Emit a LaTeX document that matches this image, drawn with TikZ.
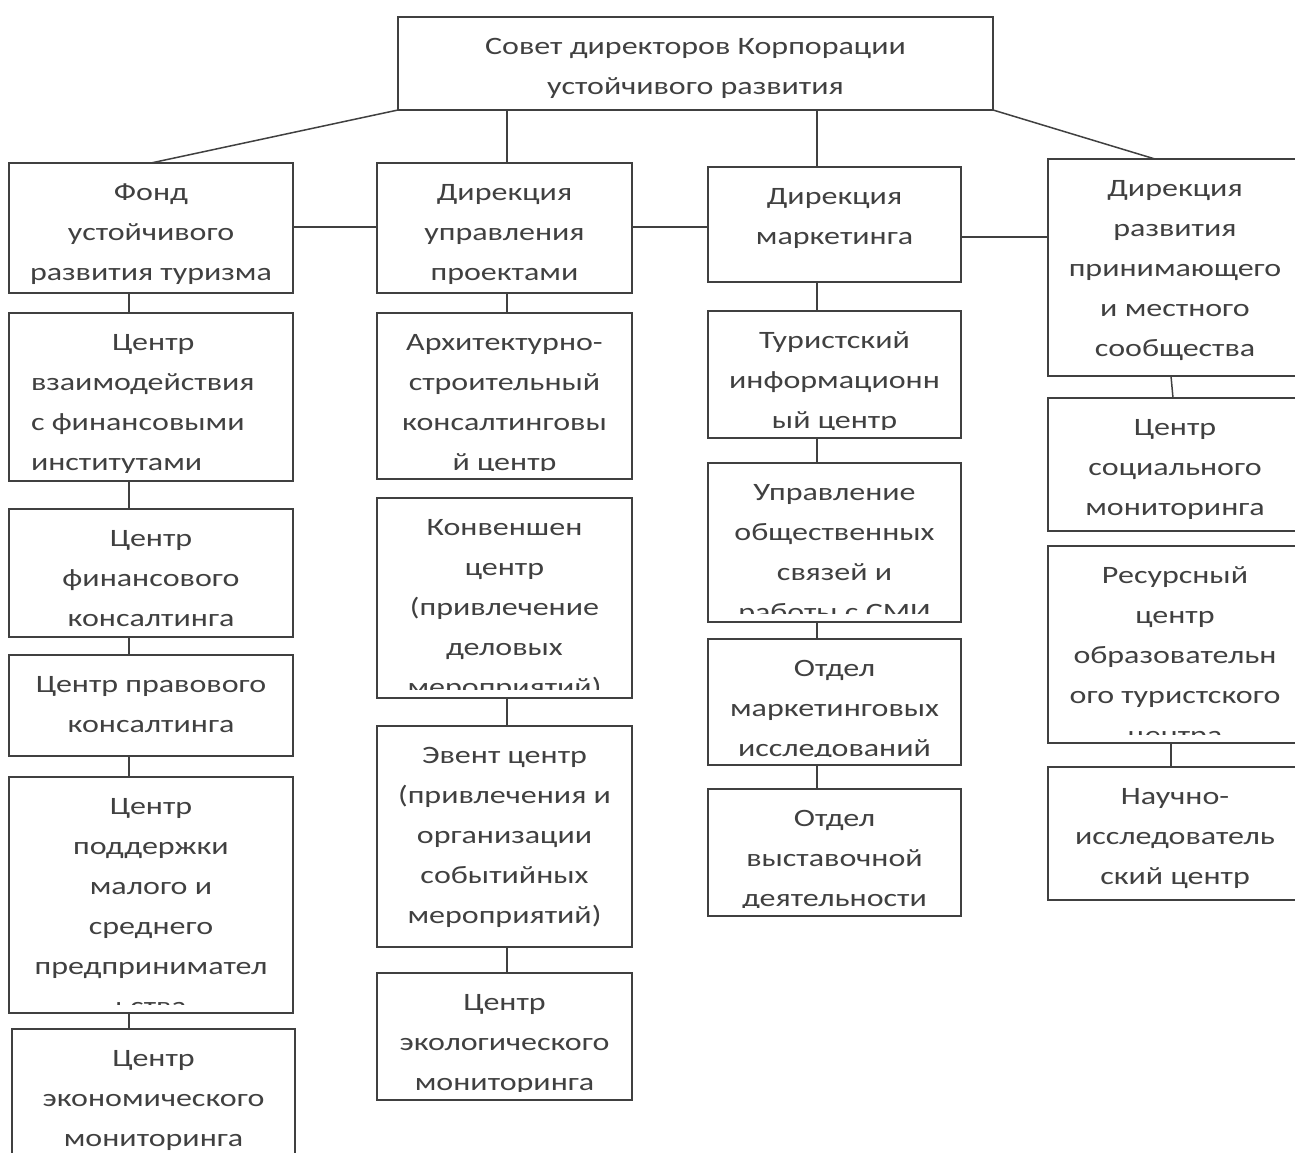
\documentclass[tikz,border=0pt]{standalone}
\usepackage{fontspec}
\setmainfont{Carlito}[FakeStretch=1.28]
\def\toff{17.5}
\newcommand\orgbox[7][]{%
  \node[obox, minimum width={(#5-#3)*1pt}, minimum height={(#6-#4)*1pt}] (#2) at (#3,#4) {};
  \begin{scope}
    \clip (#3,#4) rectangle (#5,{#6-9});
    \node[otext,#1] (#2t) at ({(#3+#5)/2},{#4+\toff}) {\rule{0pt}{20pt}#7};
  \end{scope}}
\begin{document}
\begin{tikzpicture}[x=1pt,y=-1pt,
  obox/.style={draw=black!75, line width=1.5pt, inner sep=0pt, outer sep=0pt, anchor=north west},
  otext/.style={inner sep=0pt, outer sep=0pt, align=center, anchor=north, text=black!75, font=\fontsize{25}{40}\selectfont},
  conn/.style={draw=black!75, line width=1.5pt}]
\useasboundingbox (0,0) rectangle (1295,1153);
\clip (0,0) rectangle (1295,1153);

% top
\orgbox{top}{398}{17}{993}{110}{Совет директоров Корпорации\\устойчивого развития}
% row 1
\orgbox{fond}{9}{163}{293}{293}{Фонд\\устойчивого\\развития туризма}
\orgbox{dir}{377}{163}{632}{293}{Дирекция\\управления\\проектами}
\orgbox{mark}{708}{167}{961}{282}{Дирекция\\маркетинга}
\orgbox{razv}{1048}{159}{1302}{376}{Дирекция\\развития\\принимающего\\и местного\\сообщества}
% column 1
\orgbox[anchor=north west, align=left, xshift=-120pt]{ca}{9}{313}{293}{481}{\hspace*{81pt}Центр\\взаимодействия\\с финансовыми\\институтами}
\orgbox{cb}{9}{509}{293}{637}{Центр\\финансового\\консалтинга}
\orgbox{cc}{9}{655}{293}{756}{Центр правового\\консалтинга}
\orgbox{cd}{9}{777}{293}{1013}{Центр\\поддержки\\малого и\\среднего\\предпринимател\\ьства}
\orgbox{ce}{12}{1029}{295}{1170}{Центр\\экономического\\мониторинга}
% column 2
\orgbox{da}{377}{313}{632}{479}{Архитектурно-\\строительный\\консалтинговы\\й центр}
\orgbox{db}{377}{498}{632}{698}{Конвеншен\\центр\\(привлечение\\деловых\\мероприятий)}
\orgbox{dc}{377}{726}{632}{947}{Эвент центр\\(привлечения и\\организации\\событийных\\мероприятий)}
\orgbox{dd}{377}{973}{632}{1100}{Центр\\экологического\\мониторинга}
% column 3
\orgbox{ma}{708}{311}{961}{438}{Туристский\\информационн\\ый центр}
\orgbox{mb}{708}{463}{961}{622}{Управление\\общественных\\связей и\\работы с СМИ}
\orgbox{mc}{708}{639}{961}{765}{Отдел\\маркетинговых\\исследований}
\orgbox{md}{708}{789}{961}{916}{Отдел\\выставочной\\деятельности}
% column 4
\orgbox{ra}{1048}{398}{1302}{531}{Центр\\социального\\мониторинга}
\orgbox{rb}{1048}{546}{1302}{743}{Ресурсный\\центр\\образовательн\\ого туристского\\центра}
\orgbox{rc}{1048}{767}{1302}{900}{Научно-\\исследователь\\ский центр}

% guide coordinates
\coordinate (k1) at (129,0);
\coordinate (k2) at (507,0);
\coordinate (k3) at (817,0);
\coordinate (k4) at (1171,0);
\coordinate (k4b) at (1173,0);
\coordinate (r1) at (1155,0);
\coordinate (h1) at (0,227);
\coordinate (h2) at (0,237);

% connectors from top
\draw[conn] (top.south west) -- (fond.north);
\draw[conn] (top.south -| k2) -- (dir.north -| k2);
\draw[conn] (top.south -| k3) -- (mark.north -| k3);
\draw[conn] (top.south east) -- (razv.north -| r1);
% horizontal
\draw[conn] (fond.east |- h1) -- (dir.west |- h1);
\draw[conn] (dir.east |- h1) -- (mark.west |- h1);
\draw[conn] (mark.east |- h2) -- (razv.west |- h2);
% column 1
\draw[conn] (fond.south -| k1) -- (ca.north -| k1);
\draw[conn] (ca.south -| k1) -- (cb.north -| k1);
\draw[conn] (cb.south -| k1) -- (cc.north -| k1);
\draw[conn] (cc.south -| k1) -- (cd.north -| k1);
\draw[conn] (cd.south -| k1) -- (ce.north -| k1);
% column 2
\draw[conn] (dir.south -| k2) -- (da.north -| k2);
\draw[conn] (db.south -| k2) -- (dc.north -| k2);
\draw[conn] (dc.south -| k2) -- (dd.north -| k2);
% column 3
\draw[conn] (mark.south -| k3) -- (ma.north -| k3);
\draw[conn] (ma.south -| k3) -- (mb.north -| k3);
\draw[conn] (mb.south -| k3) -- (mc.north -| k3);
\draw[conn] (mc.south -| k3) -- (md.north -| k3);
% column 4
\draw[conn] (razv.south -| k4) -- (ra.north -| k4b);
\draw[conn] (rb.south -| k4) -- (rc.north -| k4);
\end{tikzpicture}
\end{document}
